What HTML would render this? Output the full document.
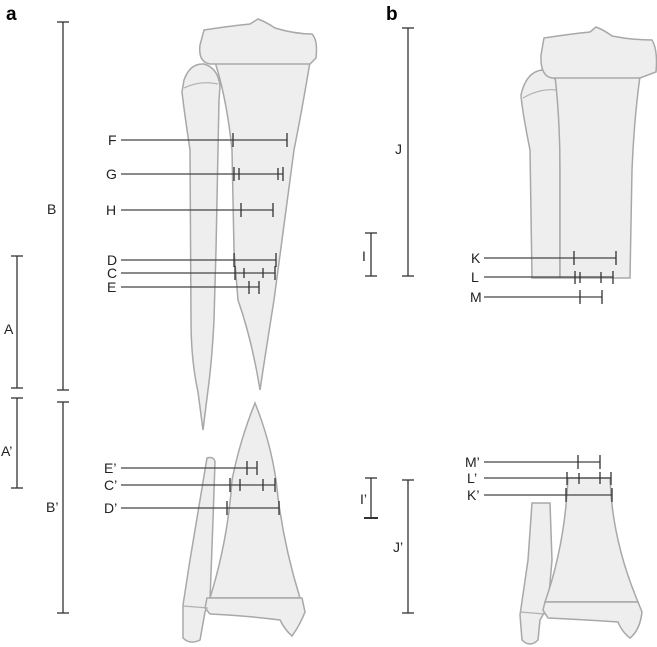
<!DOCTYPE html>
<html><head><meta charset="utf-8"><style>
html,body{margin:0;padding:0;background:#fff}
svg{display:block}
text{font-family:"Liberation Sans",sans-serif;font-size:14px;fill:#222}
.b{fill:#eeeeee;stroke:#a8a8a8;stroke-width:1.5}
.s{fill:none;stroke:#b0b0b0;stroke-width:1.2}
.l{stroke:#444;stroke-width:1.2;fill:none}
.t{stroke:#333;stroke-width:1.3}
</style></head><body>
<svg width="657" height="647" viewBox="0 0 657 647">
<text x="6" y="20" style="font-size:19px;font-weight:bold;fill:#000">a</text>
<text x="386" y="20" style="font-size:19px;font-weight:bold;fill:#000">b</text>
<!-- panel a upper bones -->
<path class="b" d="M184,80 Q190,63 204,64 Q218,68 220,86 L219,100 L216,250 L214,320 Q212,360 208,390 L203,430 L198,392 Q191,360 191,320 L190,150 Q184,110 182,92 Z"/>
<path class="s" d="M184,88 Q200,80 218,84"/>
<path class="b" d="M215,62 L310,62 Q302,110 294,150 L282,240 L274,300 Q266,350 260,390 Q252,340 238,300 L234,250 L232,150 Q227,100 215,62 Z"/>
<path class="b" d="M204,30 Q230,26 250,24 L258,19 Q266,22 275,28 Q295,34 312,34 Q318,40 316,58 L310,64 L210,64 Q198,62 200,45 Z"/>
<!-- panel a lower bones -->
<path class="b" d="M207,458 Q214,456 215,462 L213,520 L210,600 L205,612 L200,640 Q190,645 183,638 L183,605 L190,560 Z"/>
<path class="b" d="M255,403 Q270,440 276,480 Q282,540 300,598 L210,598 Q228,540 232,480 Q240,440 255,403 Z"/>
<path class="b" d="M207,598 L302,598 L305,612 Q300,625 292,636 Q285,630 280,620 Q250,616 210,614 L205,608 Z"/>
<path class="s" d="M183,606 L208,608"/>
<!-- panel b upper bones -->
<path class="b" d="M521,95 Q526,72 542,70 Q556,72 558,90 L560,100 L560,278 L532,278 L530,150 Q522,110 521,95 Z"/>
<path class="s" d="M523,98 Q540,88 557,90"/>
<path class="b" d="M555,76 L640,76 Q634,120 632,170 L630,278 L560,278 L560,170 Q560,120 555,76 Z"/>
<path class="b" d="M544,38 Q570,34 590,32 L596,27 Q604,30 612,36 Q632,40 652,40 Q658,50 656,72 L640,78 L552,78 Q540,76 541,55 Z"/>
<!-- panel b lower bones -->
<path class="b" d="M532,503 L550,503 L552,560 L548,606 L540,620 L538,640 Q530,648 522,640 L520,615 L528,560 Z"/>
<path class="b" d="M568,478 L610,478 Q612,540 638,602 L545,602 Q565,545 568,478 Z"/>
<path class="b" d="M545,602 L638,602 L642,612 Q640,630 630,638 Q622,632 618,622 Q590,620 548,618 L543,610 Z"/>
<path class="s" d="M520,612 L545,614"/>
<!-- scale bars -->
<g class="t">
<line x1="63" y1="22" x2="63" y2="390"/><line x1="57" y1="22" x2="69" y2="22"/><line x1="57" y1="390" x2="69" y2="390"/>
<line x1="17" y1="256" x2="17" y2="388"/><line x1="11" y1="256" x2="23" y2="256"/><line x1="11" y1="388" x2="23" y2="388"/>
<line x1="17" y1="398" x2="17" y2="488"/><line x1="11" y1="398" x2="23" y2="398"/><line x1="11" y1="488" x2="23" y2="488"/>
<line x1="63" y1="402" x2="63" y2="613"/><line x1="57" y1="402" x2="69" y2="402"/><line x1="57" y1="613" x2="69" y2="613"/>
<line x1="408" y1="28" x2="408" y2="276"/><line x1="402" y1="28" x2="414" y2="28"/><line x1="402" y1="276" x2="414" y2="276"/>
<line x1="371" y1="233" x2="371" y2="276"/><line x1="365" y1="233" x2="377" y2="233"/><line x1="365" y1="276" x2="377" y2="276"/>
<line x1="371" y1="478" x2="371" y2="518"/><line x1="365" y1="478" x2="377" y2="478"/><line x1="364" y1="518" x2="378" y2="518" style="stroke-width:2"/>
<line x1="408" y1="480" x2="408" y2="613"/><line x1="402" y1="480" x2="414" y2="480"/><line x1="402" y1="613" x2="414" y2="613"/>
</g>
<text x="47" y="214">B</text><text x="4" y="334">A</text><text x="1" y="456">A’</text><text x="46" y="512">B’</text>
<text x="395" y="154">J</text><text x="362" y="261">I</text><text x="360" y="504">I’</text><text x="393" y="552">J’</text>
<!-- measure lines -->
<g class="l">
<line x1="121" y1="140" x2="287" y2="140"/><line x1="121" y1="174" x2="283" y2="174"/>
<line x1="121" y1="210" x2="273" y2="210"/><line x1="121" y1="260" x2="276" y2="260"/>
<line x1="121" y1="273" x2="275" y2="273"/><line x1="121" y1="287" x2="259" y2="287"/>
<line x1="121" y1="468" x2="257" y2="468"/><line x1="121" y1="485" x2="275" y2="485"/>
<line x1="121" y1="508" x2="279" y2="508"/>
<line x1="484" y1="258" x2="616" y2="258"/><line x1="484" y1="277" x2="613" y2="277"/>
<line x1="484" y1="297" x2="602" y2="297"/><line x1="484" y1="462" x2="600" y2="462"/>
<line x1="484" y1="478" x2="611" y2="478"/><line x1="484" y1="495" x2="612" y2="495"/>
</g>
<g class="t">
<path d="M233,133v14M287,133v14"/>
<path d="M234,167v14M239,168v12M278,168v12M283,167v14"/>
<path d="M241,203v14M273,203v14"/>
<path d="M234,253v14M276,253v14"/>
<path d="M235,266v14M244,268v10M263,268v10M275,266v14"/>
<path d="M249,281v13M259,281v13"/>
<path d="M247,461v14M257,461v14"/>
<path d="M230,478v14M240,479v12M263,479v12M275,478v14"/>
<path d="M227,501v14M279,501v14"/>
<path d="M574,251v14M616,251v14"/>
<path d="M575,271v13M580,272v11M601,272v11M613,271v13"/>
<path d="M580,290v14M602,290v14"/>
<path d="M578,455v14M600,455v14"/>
<path d="M567,472v13M579,473v11M600,472v12M611,472v13"/>
<path d="M566,488v14M612,488v14"/>
</g>
<text x="108" y="145">F</text><text x="106" y="179">G</text><text x="106" y="215">H</text>
<text x="107" y="265">D</text><text x="107" y="278">C</text><text x="107" y="292">E</text>
<text x="104" y="473">E’</text><text x="104" y="490">C’</text><text x="104" y="513">D’</text>
<text x="471" y="263">K</text><text x="471" y="282">L</text><text x="470" y="302">M</text>
<text x="465" y="467">M’</text><text x="467" y="483">L’</text><text x="467" y="500">K’</text>
</svg>
</body></html>
